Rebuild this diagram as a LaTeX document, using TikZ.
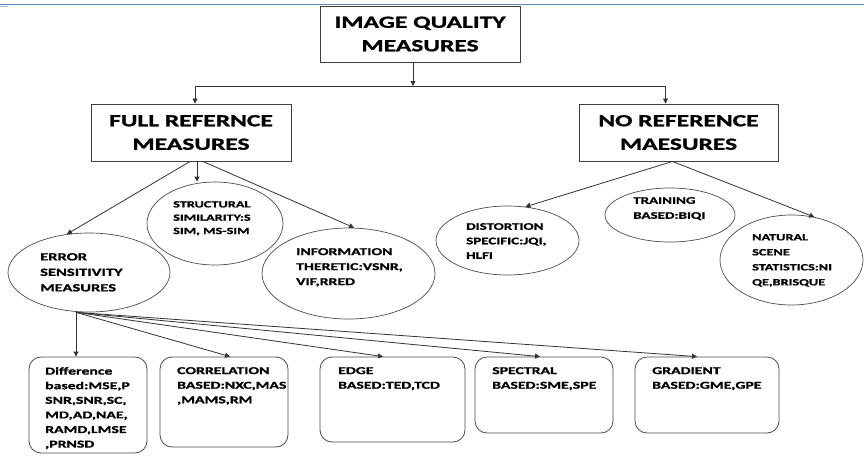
\documentclass[tikz,border=0pt]{standalone}
\usepackage{fontspec}
\newfontfamily\calfont{Carlito}[FakeStretch=1.5, BoldFeatures={FakeBold=1.2}]
\usetikzlibrary{shapes.geometric,arrows.meta,calc}
\definecolor{topblue}{RGB}{91,140,205}
\definecolor{lightblue}{RGB}{170,200,235}
\begin{document}
\begin{tikzpicture}[x=1pt,y=-1pt,
  topbox/.style={draw=black!75, line width=0.9pt, minimum width=200pt, minimum height=56pt, inner sep=0pt, align=center, font=\calfont\bfseries\fontsize{17}{23.5}\selectfont},
  ell/.style={draw=black!70, line width=0.7pt, ellipse, inner sep=0pt},
  rbox/.style={draw=black!70, line width=0.8pt, rounded corners=12pt, inner sep=0pt},
  lbl/.style={anchor=north west, inner sep=0pt, align=left},
  conn/.style={draw=black!80, line width=0.8pt, -{Triangle[length=5pt,width=5pt]}}
]
\useasboundingbox (0,0) rectangle (864,455);
\fill[white] (0,0) rectangle (864,455);
\draw[topblue, line width=1.5pt] (0,4.5) -- (864,4.5);
\fill[lightblue] (0,5.5) rectangle (8,7);

% level 0 and 1
\node[topbox] (top) at (420,34) {IMAGE QUALITY\\MEASURES};
\node[topbox, minimum width=200pt, minimum height=57pt] (fr) at (191,132.5) {FULL REFERNCE\\MEASURES};
\node[topbox, minimum width=199pt, minimum height=57pt] (nr) at (678.5,132.5) {NO REFERENCE\\MAESURES};
\coordinate (j) at (413,86);
\draw[conn] ([xshift=-7pt]top.south) -- (j);
\draw[conn] (j) -| ([xshift=4pt]fr.north);
\draw[conn] (j) -| ([xshift=-13pt]nr.north);

% full reference children
\node[ell, minimum width=136pt, minimum height=83pt] (st) at (215,223.5) {};
\node[ell, minimum width=162pt, minimum height=79pt] (err) at (89,272.5) {};
\node[ell, minimum width=173pt, minimum height=91pt] (inf) at (348.5,273.5) {};
\node[lbl, font=\calfont\bfseries\fontsize{9.5}{13.3}\selectfont] (stT) at (173,201) {STRUCTURAL\\SIMILARITY:S\\SIM, MS-SIM};
\node[lbl, font=\calfont\bfseries\fontsize{11}{15.5}\selectfont] (errT) at (40,253) {ERROR\\SENSITIVITY\\MEASURES};
\node[lbl, font=\calfont\bfseries\fontsize{10.5}{15}\selectfont] (infT) at (296,248) {INFORMATION\\THERETIC:VSNR,\\VIF,RRED};
\draw[conn] ([xshift=6pt]fr.south) -- ([xshift=6pt]fr.south |- st.north);
\draw[conn] ([xshift=-1pt]fr.south) -- (err.120);
\draw[conn] ([xshift=12pt]fr.south) -- (inf.83);

% no reference children
\node[ell, minimum width=143pt, minimum height=69pt] (dis) at (507.5,240.5) {};
\node[ell, minimum width=130pt, minimum height=54pt] (tr) at (670,215) {};
\node[ell, minimum width=143pt, minimum height=90pt] (nat) at (791.5,260) {};
\node[lbl, font=\calfont\bfseries\fontsize{10}{14.5}\selectfont] (disT) at (466,223) {DISTORTION\\SPECIFIC:JQI,\\HLFI};
\node[lbl, font=\calfont\bfseries\fontsize{10}{15}\selectfont] (trT) at (633,197) {TRAINING\\BASED:BIQI};
\node[lbl, font=\calfont\bfseries\fontsize{9.5}{15}\selectfont] (natT) at (752,234) {NATURAL\\SCENE\\STATISTICS:NI\\QE,BRISQUE};
\draw[conn] ([xshift=-6pt]nr.south) -- (dis.62);
\draw[conn] ([xshift=-6pt]nr.south) -- (nat.62);

% bottom boxes
\node[rbox, minimum width=118pt, minimum height=96pt] (dif) at (88,405) {};
\node[rbox, minimum width=128pt, minimum height=90pt] (cor) at (224,402) {};
\node[rbox, minimum width=145pt, minimum height=85pt] (edg) at (392.5,399.5) {};
\node[rbox, minimum width=138pt, minimum height=76pt] (spe) at (544,395) {};
\node[rbox, minimum width=144pt, minimum height=76pt] (gra) at (707,395) {};
\tikzset{btext/.style={lbl, font=\calfont\bfseries\fontsize{10.5}{14.6}\selectfont}}
\node[btext] (difT) at (45,367) {Difference\\based:MSE,P\\SNR,SNR,SC,\\MD,AD,NAE,\\RAMD,LMSE\\,PRNSD};
\node[btext] (corT) at (177,367) {CORRELATION\\BASED:NXC,MAS\\,MAMS,RM};
\node[btext] (edgT) at (338,367) {EDGE\\BASED:TED,TCD};
\node[btext] (speT) at (492,367) {SPECTRAL\\BASED:SME,SPE};
\node[btext] (graT) at (652,367) {GRADIENT\\BASED:GME,GPE};
\coordinate (eb) at ([xshift=-13pt]err.south);
\draw[conn] (eb) -- ([xshift=-12pt]dif.north);
\draw[conn] (eb) -- ([xshift=6pt]cor.north);
\draw[conn] (eb) -- ([xshift=-9.5pt]edg.north);
\draw[conn] (eb) -- ([xshift=-4pt]spe.north);
\draw[conn] (eb) -- ([xshift=-10pt]gra.north);
\end{tikzpicture}
\end{document}
